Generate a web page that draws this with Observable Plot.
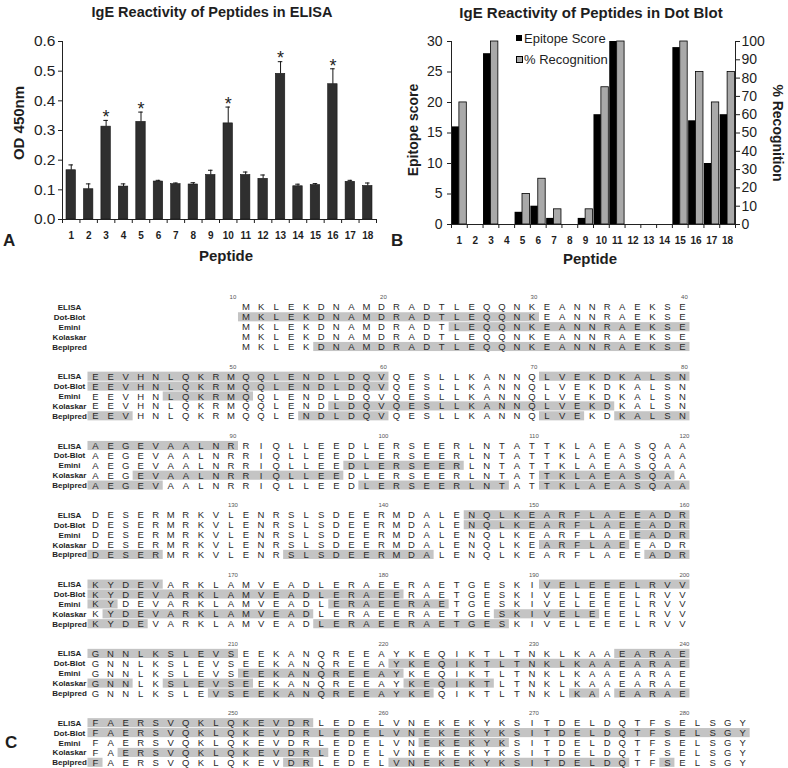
<!DOCTYPE html>
<html><head><meta charset="utf-8">
<script src="https://cdn.jsdelivr.net/npm/d3@7"></script>
<script src="https://cdn.jsdelivr.net/npm/@observablehq/plot@0.6"></script>
<style>
body{margin:0;background:#fff;}
#fig{position:relative;width:788px;height:768px;overflow:hidden;font-family:"Liberation Sans",Arial,sans-serif;color:#1e1e1e;}
#fig svg{position:absolute;overflow:visible;}
.t{position:absolute;white-space:nowrap;line-height:1;}
.b{font-weight:bold;}
.c{transform:translateX(-50%);}
.rot{transform:translate(-50%,-50%) rotate(-90deg);}
.rot2{transform:translate(-50%,-50%) rotate(90deg);}
.sq{position:absolute;width:6px;height:6px;}
</style></head><body><div id="fig"></div>
<script>
// ---------- data ----------
const peptides = [1,2,3,4,5,6,7,8,9,10,11,12,13,14,15,16,17,18];
const elisaOD  = [0.166,0.102,0.313,0.111,0.329,0.128,0.119,0.118,0.150,0.324,0.150,0.137,0.491,0.112,0.116,0.456,0.127,0.113];
const elisaErrTop = [0.184,0.120,0.334,0.120,0.362,0.132,0.123,0.124,0.166,0.379,0.160,0.150,0.532,0.119,0.121,0.508,0.132,0.123];
const significant = [3,5,10,13,16];
const yTicksA = [0,0.1,0.2,0.3,0.4,0.5,0.6];

const epitopeScore   = [16,0,28,0,2,3,1,0,1,18,30,0,0,0,29,17,10,18];
const recognitionPct = [66.7,0,100,0,16.7,25,8.3,0,8.3,75,100,0,0,0,100,83.3,66.7,83.3];
const scoreTicks = [0,5,10,15,20,25,30];
const pctTicks = [0,10,20,30,40,50,60,70,80,90,100];
const scoreMax = 30, pctMax = 100;

const seqStart = 11;
const sequence =
  "MKLEKDNAMDRADTLEQQNKEANNRAEKSE" +
  "EEVHNLQKRMQQLENDLDQVQESLLKANNQLVEKDKALSN" +
  "AEGEVAALNRRIQLLEEDLERSEERLNTATTKLAEASQAA" +
  "DESERMRKVLENRSLSDEERMDALENQLKEARFLAEEADR" +
  "KYDEVARKLAMVEADLERAEERAETGESKIVELEEELRVV" +
  "GNNLKSLEVSEEKANQREEAYKEQIKTLTNKLKAAEARAE" +
  "FAERSVQKLQKEVDRLEDELVNEKEKYKSITDELDQTFSELSGY";
const blockStarts = [1,41,81,121,161,201,241];
const blockEnds   = [40,80,120,160,200,240,284];
const numberLabels = [10,20,30,40,50,60,70,80,90,100,110,120,130,140,150,160,170,180,190,200,210,220,230,240,250,260,270,280];
const methods = ["ELISA","Dot-Blot","Emini","Kolaskar","Bepipred"];
const elisaRegions    = [[41,60],[71,90],[146,165],[191,210],[236,255]];
const dotBlotRegions  = [[11,30],[41,60],[146,181],[221,284]];
const eminiRegions    = [[25,40],[46,51],[98,105],[157,162],[177,184],[211,221],[263,268]];
const kolaskarRegions = [[57,75],[84,97],[111,119],[151,156],[162,175],[188,194],[201,203],[206,211],[222,227],[243,256]];
const bepipredRegions = [[16,43],[55,60],[71,73],[76,85],[99,108],[111,125],[134,143],[158,164],[176,188],[209,223],[233,234],[236,241],[254,255],[261,276],[279,279]];
const methodRegions = [elisaRegions, dotBlotRegions, eminiRegions, kolaskarRegions, bepipredRegions];

// ---------- helpers ----------
const FONT = "'Liberation Sans', Arial, sans-serif";
const fig = document.getElementById("fig");
function addText(html, cls, left, top, size){
  const d = document.createElement("div");
  d.className = "t " + cls; d.innerHTML = html;
  d.style.left = left + "px"; d.style.top = top + "px"; d.style.fontSize = size + "px";
  fig.appendChild(d); return d;
}
function place(svg, left, top){ svg.style.left = left+"px"; svg.style.top = top+"px"; fig.appendChild(svg); }

// ---------- Panel A ----------
const dataA = peptides.map((p,i)=>({p, od: elisaOD[i], err: elisaErrTop[i]}));
const boundaries = [0.5].concat(peptides.map(p=>p+0.5));
const plotA = Plot.plot({
  width: 400, height: 270, marginLeft: 62, marginRight: 24, marginTop: 41, marginBottom: 51,
  style: {fontFamily: FONT, color: "#1e1e1e", background: "transparent"},
  x: {domain: [0.5, 18.5]},
  y: {domain: [0, 0.6]},
  marks: [
    Plot.rectY(dataA, {x1: d=>d.p-0.27, x2: d=>d.p+0.27, y: "od", fill: "#2f2f2f", stroke: "#151515", strokeWidth: 0.6}),
    Plot.ruleX(dataA, {x: "p", y1: "od", y2: "err", stroke: "#151515", strokeWidth: 1}),
    Plot.ruleY(dataA, {y: "err", x1: d=>d.p-0.13, x2: d=>d.p+0.13, stroke: "#151515", strokeWidth: 1}),
    Plot.text(dataA.filter(d=>significant.includes(d.p)), {x: "p", y: "err", text: ()=>"*", fontSize: 18, dy: -3, fill: "#1e1e1e"}),
    Plot.ruleY([0], {stroke: "#222"}),
    Plot.ruleX([0.5], {y1: 0, y2: 0.6, stroke: "#222"}),
    Plot.axisY({ticks: yTicksA, tickFormat: d3.format(".1f"), tickSize: 4, tickPadding: 3, fontSize: 15.5, label: null}),
    Plot.axisX({ticks: boundaries, tickFormat: ()=>"", tickSize: 4, label: null}),
    Plot.axisX({ticks: peptides, tickSize: 0, tickPadding: 12, fontSize: 10, fontWeight: "bold", label: null})
  ]
});
place(plotA, 0, 0);

// ---------- Panel B ----------
const dataB = peptides.map((p,i)=>({p, score: epitopeScore[i], pct: recognitionPct[i]}));
const pctToScore = v => v * scoreMax / pctMax;
const plotB = Plot.plot({
  width: 398, height: 270, marginLeft: 61, marginRight: 53, marginTop: 41, marginBottom: 46,
  style: {fontFamily: FONT, color: "#1e1e1e", background: "transparent"},
  x: {domain: [0.5, 18.5]},
  y: {domain: [0, scoreMax]},
  marks: [
    Plot.rectY(dataB.filter(d=>d.score>0), {x1: d=>d.p-0.47, x2: d=>d.p, y: "score", fill: "#000"}),
    Plot.rectY(dataB.filter(d=>d.pct>0), {x1: d=>d.p, x2: d=>d.p+0.47, y: d=>pctToScore(d.pct), fill: "#a9a9a9", stroke: "#000", strokeWidth: 0.8}),
    Plot.ruleY([0], {stroke: "#222"}),
    Plot.ruleX([0.5], {y1: 0, y2: scoreMax, stroke: "#222"}),
    Plot.ruleX([18.5], {y1: 0, y2: scoreMax, stroke: "#222"}),
    Plot.axisY({ticks: scoreTicks, tickSize: 4, tickPadding: 5, fontSize: 14, label: null}),
    Plot.axisY({anchor: "right", ticks: pctTicks.map(pctToScore), tickFormat: v => Math.round(v*pctMax/scoreMax), tickSize: 4, tickPadding: 2, fontSize: 14, label: null}),
    Plot.axisX({ticks: boundaries, tickFormat: ()=>"", tickSize: 4, label: null}),
    Plot.axisX({ticks: peptides, tickSize: 0, tickPadding: 12, fontSize: 10, fontWeight: "bold", label: null})
  ]
});
place(plotB, 390, 0);

// ---------- Panel C ----------
function blockOf(pos){ let b = 0; for (let i=0;i<blockStarts.length;i++) if (pos >= blockStarts[i]) b = i; return b; }
const ROWS = 7;
const residues = Array.from(sequence, (aa, i) => { const pos = seqStart + i; const b = blockOf(pos); return {aa, pos, b, col: pos - blockStarts[b] + 1}; });
const letters = [];
methods.forEach((m, mi) => residues.forEach(r => letters.push({aa: r.aa, col: r.col, y: r.b*ROWS + mi + 1})));
const rects = [];
methodRegions.forEach((regs, mi) => regs.forEach(([s,e]) => {
  blockStarts.forEach((bs, b) => {
    const s2 = Math.max(s, bs), e2 = Math.min(e, blockEnds[b]);
    if (s2 <= e2) rects.push({c1: s2 - bs + 1, c2: e2 - bs + 1, y: b*ROWS + mi + 1});
  });
}));
const nums = numberLabels.map(n => { const b = blockOf(n); return {label: String(n), col: n - blockStarts[b] + 1, y: b*ROWS}; });
const rowLabels = [];
blockStarts.forEach((bs, b) => methods.forEach((m, mi) => rowLabels.push({name: m, y: b*ROWS + mi + 1})));

const plotC = Plot.plot({
  width: 788, height: 483, margin: 0,
  style: {fontFamily: FONT, color: "#1e1e1e", background: "transparent"},
  x: {domain: [1, 44], range: [95, 95 + 43*15.05], axis: null},
  y: {domain: [0, 47], range: [12, 12 + 47*9.9], axis: null},
  marks: [
    Plot.rect(rects, {x1: d=>d.c1-0.5, x2: d=>d.c2+0.5, y1: d=>d.y-0.46, y2: d=>d.y+0.46, fill: "#c4c4c4"}),
    Plot.text(letters, {x: "col", y: "y", text: "aa", fontSize: 9.5, fill: "#2a2a2a"}),
    Plot.text(nums, {x: "col", y: "y", text: "label", fontSize: 6, fill: "#555", dx: 2}),
    Plot.text(rowLabels, {frameAnchor: "left", dx: 69, y: "y", text: "name", textAnchor: "middle", fontWeight: "bold", fontSize: 8, fontFamily: "'Liberation Sans Narrow', 'Liberation Sans', Arial, sans-serif", fill: "#1e1e1e"})
  ]
});
place(plotC, 0, 285);

// ---------- annotations ----------
addText("IgE Reactivity of Peptides in ELISA", "b c", 212, 4.5, 14.5);
addText("IgE Reactivity of Peptides in Dot Blot", "b c", 591, 4.5, 15);
addText("OD 450nm", "b rot", 18, 122.5, 15);
addText("Peptide", "b c", 226, 248, 15);
addText("Peptide", "b c", 590, 251, 15);
addText("Epitope score", "b rot", 413, 130, 14);
addText("% Recognition", "b rot2", 777.5, 132.5, 14);
addText("A", "b", 3, 231.5, 17);
addText("B", "b", 391, 231.5, 17);
addText("C", "b", 5, 734, 17);
// legend in panel B
const s1 = document.createElement("div"); s1.className = "sq"; s1.style.cssText += "left:516px;top:35px;background:#000;"; fig.appendChild(s1);
const s2 = document.createElement("div"); s2.className = "sq"; s2.style.cssText += "left:516px;top:56px;background:#a9a9a9;border:1px solid #000;width:5px;height:5px;"; fig.appendChild(s2);
addText("Epitope Score", "", 524, 32, 13);
addText("% Recognition", "", 524, 53, 13);
</script></body></html>
